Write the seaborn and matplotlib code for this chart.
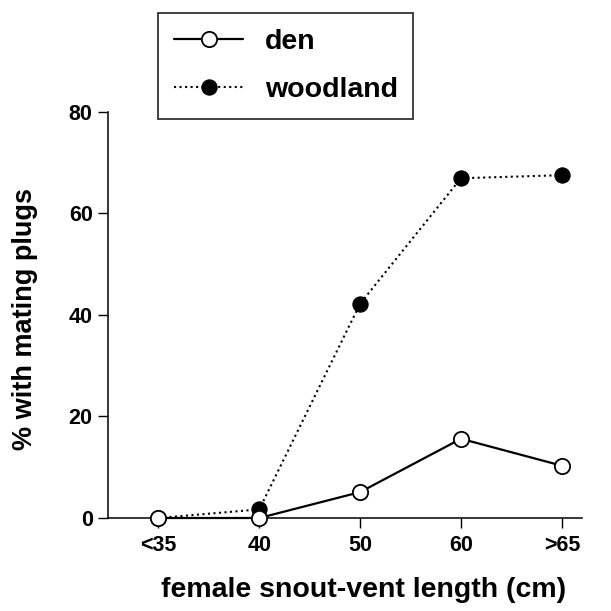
import pandas as pd
import seaborn as sns
import matplotlib.pyplot as plt

# Data
sizes = ['<35', '40', '50', '60', '>65']
den = [0, 0, 5.1, 15.6, 10.3]
woodland = [0, 1.7, 42.2, 66.9, 67.5]

df_den = pd.DataFrame({'size': sizes, 'pct': den})
df_wood = pd.DataFrame({'size': sizes, 'pct': woodland})

sns.set_style('ticks')
plt.rcParams['font.family'] = ['Liberation Sans', 'DejaVu Sans']
plt.rcParams['font.weight'] = 'bold'
plt.rcParams['text.color'] = 'black'
plt.rcParams['axes.labelcolor'] = 'black'

fig = plt.figure(figsize=(6.11, 6.11), dpi=100)
ax = fig.add_axes([108 / 611, 1 - 518 / 611, 474 / 611, 406.3 / 611])

# den on top, but first in legend
sns.lineplot(data=df_den, x='size', y='pct', sort=False, errorbar=None, ax=ax,
             color='black', lw=1.6, marker='o', markersize=11,
             markerfacecolor='white', markeredgecolor='black', markeredgewidth=1.3,
             label='den', clip_on=False, zorder=4)
sns.lineplot(data=df_wood, x='size', y='pct', sort=False, errorbar=None, ax=ax,
             color='black', lw=1.5, ls=':', marker='o', markersize=11,
             markerfacecolor='black', markeredgecolor='black',
             label='woodland', clip_on=False, zorder=3)

ax.set_xlim(-0.5, 4.2)
ax.set_ylim(0, 80)
ax.set_yticks([0, 20, 40, 60, 80])
sns.despine(ax=ax)
for s in ['left', 'bottom']:
    ax.spines[s].set_linewidth(1.1)
    ax.spines[s].set_color('black')
ax.tick_params(axis='both', direction='out', length=7, width=1.0,
               labelsize=15.5, colors='black')
ax.tick_params(axis='y', pad=4)
ax.tick_params(axis='x', pad=5)
for t in ax.get_xticklabels() + ax.get_yticklabels():
    t.set_fontweight('bold')

ax.set_xlabel('female snout-vent length (cm)', fontsize=20.5, fontweight='bold')
ax.set_ylabel('% with mating plugs', fontsize=19.5, fontweight='bold')
ax.xaxis.set_label_coords(0.539, -0.145)
ax.yaxis.set_label_coords(-0.147, 0.49)

ax.get_legend().remove()
handles, labels = ax.get_legend_handles_labels()
leg = fig.legend(handles, labels, loc='upper left',
                 bbox_to_anchor=(158 / 611, 1 - 13 / 611), borderaxespad=0,
                 frameon=True, fancybox=False, edgecolor='black',
                 borderpad=0.55, labelspacing=0.8, handlelength=2.45,
                 handletextpad=0.75, prop={'weight': 'bold', 'size': 20.5})
leg.get_frame().set_linewidth(1.3)

fig.savefig('out.png', dpi=100)
